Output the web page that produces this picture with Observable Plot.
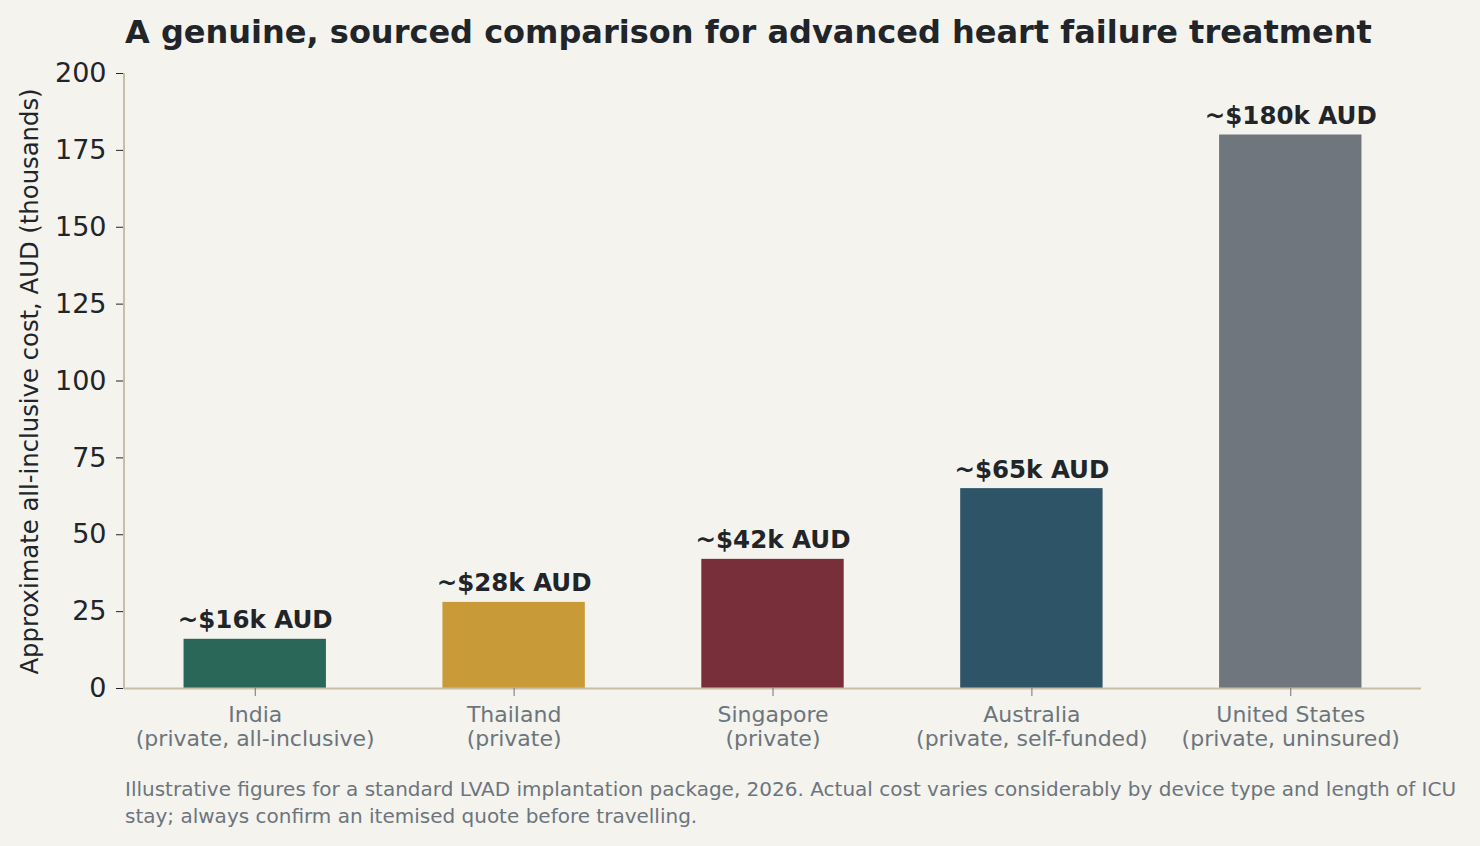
<!DOCTYPE html>
<html>
<head>
<meta charset="utf-8">
<script src="https://cdn.jsdelivr.net/npm/d3@7"></script>
<script src="https://cdn.jsdelivr.net/npm/@observablehq/plot@0.6"></script>
<style>
  html, body { margin: 0; padding: 0; background: #f4f3ee; }
  body { width: 1480px; height: 846px; position: relative; overflow: hidden; font-family: "DejaVu Sans", sans-serif; }
  #title { position: absolute; left: 125px; top: 13px; font-size: 32px; font-weight: bold; color: #212529; white-space: nowrap; }
  #chart { position: absolute; left: 0; top: 50px; }
  #caption { position: absolute; left: 125px; top: 776px; width: 1345px; font-size: 20px; line-height: 27px; color: #6c757d; }
</style>
</head>
<body>
<div id="title">A genuine, sourced comparison for advanced heart failure treatment</div>
<div id="chart"></div>
<div id="caption">Illustrative figures for a standard LVAD implantation package, 2026. Actual cost varies considerably by device type and length of ICU stay; always confirm an itemised quote before travelling.</div>
<script>
const countries = ["India", "Thailand", "Singapore", "Australia", "United States"];
const sublabels = ["(private, all-inclusive)", "(private)", "(private)", "(private, self-funded)", "(private, uninsured)"];
const costs = [16, 28, 42, 65, 180];
const valueLabels = ["~$16k AUD", "~$28k AUD", "~$42k AUD", "~$65k AUD", "~$180k AUD"];
const colors = ["#2b6759", "#c99a38", "#782f39", "#2d5467", "#70767d"];
const yTicks = [0, 25, 50, 75, 100, 125, 150, 175, 200];

const data = countries.map((c, i) => ({country: c, sub: sublabels[i], cost: costs[i], label: valueLabels[i], color: colors[i]}));

const W = 1480, H = 730, mL = 124, mR = 59, mT = 23, mB = 92;

const chart = Plot.plot({
  width: W,
  height: H,
  marginLeft: mL,
  marginRight: mR,
  marginTop: mT,
  marginBottom: mB,
  style: {background: "transparent", fontFamily: "DejaVu Sans, sans-serif"},
  x: {domain: countries, paddingInner: 0.45, paddingOuter: 0.23, round: false},
  y: {domain: [0, 200]},
  marks: [
    Plot.barY(data, {x: "country", y: "cost", fill: d => d.color}),
    Plot.ruleY([0], {stroke: "#c8bfa8", strokeWidth: 2}),
    Plot.text(data, {x: "country", y: "cost", text: "label", dy: -11, lineAnchor: "bottom", fontSize: 24.5, fontWeight: "bold", fill: "#212529"}),
    Plot.axisY({ticks: yTicks, tickSize: 8, tickPadding: 10, fontSize: 27, color: "#212529", label: null}),
    Plot.axisX({tickSize: 8, tickPadding: 8, fontSize: 22, color: "#6c757d", lineHeight: 1.1, label: null,
      tickFormat: c => c + "\n" + sublabels[countries.indexOf(c)]})
  ]
});

document.getElementById("chart").appendChild(chart);

// left spine and rotated y label, positioned from the plot's own scales
const ys = chart.scale("y");
const svg = d3.select(chart);
svg.append("line")
  .attr("x1", mL).attr("x2", mL)
  .attr("y1", ys.apply(200)).attr("y2", ys.apply(0) + 1)
  .attr("stroke", "#c8bfa8").attr("stroke-width", 2);
svg.append("text")
  .attr("transform", `translate(${mL - 93},${(ys.apply(200) + ys.apply(0)) / 2 + 1}) rotate(-90)`)
  .attr("text-anchor", "middle")
  .attr("dominant-baseline", "middle")
  .attr("font-family", "DejaVu Sans, sans-serif")
  .attr("font-size", 24.3)
  .attr("fill", "#212529")
  .text("Approximate all-inclusive cost, AUD (thousands)");
</script>
</body>
</html>
